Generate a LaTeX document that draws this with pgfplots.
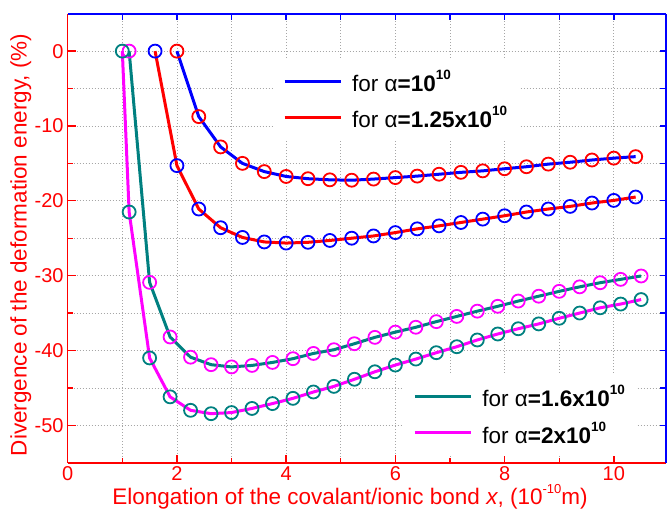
\documentclass[border=0pt]{standalone}
\usepackage{pgfplots}
\pgfplotsset{compat=1.18}
\usepackage{pgfplotstable}
\usepackage{fontspec}
\setmainfont{Liberation Sans}

\definecolor{cteal}{RGB}{0,128,128}
\definecolor{cmag}{RGB}{255,0,255}

% superscripts used in the legends and the x label
\newcommand{\lsup}[1]{\raisebox{12pt}{\fontsize{13.5}{14}\selectfont\bfseries #1}}
\newcommand{\xsup}[1]{\raisebox{10.5pt}{\fontsize{13}{13}\selectfont #1}}

% alpha = 1e10
\pgfplotstableread{
x y
2.0 0
2.4 -8.75
2.8 -12.8
3.2 -15.0
3.6 -16.1
4.0 -16.75
4.4 -17.05
4.8 -17.2
5.2 -17.25
5.6 -17.1
6.0 -16.9
6.4 -16.7
6.8 -16.45
7.2 -16.2
7.6 -16.0
8.0 -15.72
8.4 -15.45
8.8 -15.1
9.2 -14.85
9.6 -14.55
10.0 -14.3
10.4 -14.1
}\alphaone

% alpha = 1.25e10
\pgfplotstableread{
x y
1.6 0
2.0 -15.3
2.4 -21.1
2.8 -23.6
3.2 -24.9
3.6 -25.5
4.0 -25.65
4.4 -25.55
4.8 -25.3
5.2 -25.0
5.6 -24.7
6.0 -24.25
6.4 -23.75
6.8 -23.35
7.2 -22.9
7.6 -22.45
8.0 -22.0
8.4 -21.5
8.8 -21.1
9.2 -20.75
9.6 -20.3
10.0 -19.95
10.4 -19.5
}\alphatwo

% alpha = 1.6e10
\pgfplotstableread{
x y
1.125 0
1.5 -30.9
1.875 -38.2
2.25 -40.9
2.625 -41.9
3.0 -42.2
3.375 -42.0
3.75 -41.6
4.125 -41.1
4.5 -40.4
4.875 -39.9
5.25 -39.1
5.625 -38.25
6.0 -37.55
6.375 -36.9
6.75 -36.15
7.125 -35.45
7.5 -34.75
7.875 -34.1
8.25 -33.4
8.625 -32.75
9.0 -32.1
9.375 -31.5
9.75 -30.95
10.125 -30.5
10.5 -30.05
}\alphathree

% alpha = 2e10
\pgfplotstableread{
x y
1.0 0
1.125 -21.5
1.5 -41.0
1.875 -46.2
2.25 -48.0
2.625 -48.45
3.0 -48.3
3.375 -47.75
3.75 -47.1
4.125 -46.4
4.5 -45.55
4.875 -44.8
5.25 -43.85
5.625 -42.85
6.0 -41.95
6.375 -41.15
6.75 -40.3
7.125 -39.5
7.5 -38.6
7.875 -37.8
8.25 -37.1
8.625 -36.45
9.0 -35.7
9.375 -35.0
9.75 -34.3
10.125 -33.8
10.5 -33.2
}\alphafour

\pgfplotsset{
  frame/.style={
    scale only axis, width=598pt, height=449pt,
    xmin=0, xmax=10.95, ymin=-55, ymax=5,
    tick align=inside,
  },
  leg/.style={
    legend cell align=left,
    legend style={draw=none, fill=white, inner xsep=10pt, inner ysep=9pt,
      row sep=9pt, column sep=8pt, font=\fontsize{22.5}{27}\selectfont,
      /tikz/every even column/.append style={inner sep=0pt, text height=22pt, text depth=4pt}},
    legend image code/.code={\draw[##1, line width=3.2pt] (0pt,0pt) -- (56pt,0pt);},
  },
}

\begin{document}
\begin{tikzpicture}
\begin{axis}[
  frame, leg,
  axis x line*=bottom, axis y line*=left,
  axis line style={red, line width=1.6pt},
  tick align=inside,
  xtick={0,2,...,10}, xticklabels={0,2,4,6,8,10},
  minor xtick={1,3,...,9},
  ytick={-50,-40,...,0}, yticklabels={-50,-40,-30,-20,-10,0},
  minor ytick={-45,-35,...,-5},
  grid=both,
  major grid style={gray!70, line width=0.7pt, dash pattern=on 0.8pt off 2.2pt},
  minor grid style={gray!70, line width=0.7pt, dash pattern=on 0.8pt off 2.2pt},
  major tick length=8pt, minor tick length=5pt,
  tick style={red, line width=1.4pt},
  tick label style={red, font=\fontsize{20}{24}\selectfont},
  xticklabel style={inner ysep=4pt},
  yticklabel style={inner xsep=4pt},
  xlabel={Elongation of the covalant/ionic bond \textit{x}, (10\xsup{-10}m)},
  ylabel={Divergence of the deformation energy, (\%)},
  label style={red, font=\fontsize{22.5}{27}\selectfont},
  xlabel style={at={(axis description cs:0.472,-0.092)}, anchor=base},
  ylabel style={at={(axis description cs:-0.0686,0.485)}, anchor=base},
  legend style={at={(rel axis cs:0.343,0.901)}, anchor=north west},
]
\coordinate (llc) at (rel axis cs:0,0);
\addplot[blue, line width=3pt] table {\alphaone};
\addplot[red, line width=3pt] table {\alphatwo};
\addplot[cteal, line width=3pt, forget plot] table {\alphathree};
\addplot[cmag, line width=3pt, forget plot] table {\alphafour};
\addplot[only marks, mark=o, mark size=6.5pt, red, mark options={line width=1.8pt}, forget plot] table {\alphaone};
\addplot[only marks, mark=o, mark size=6.5pt, blue, mark options={line width=1.8pt}, forget plot] table {\alphatwo};
\addplot[only marks, mark=o, mark size=6.5pt, cmag, mark options={line width=1.8pt}, forget plot] table {\alphathree};
\addplot[only marks, mark=o, mark size=6.5pt, cteal, mark options={line width=1.8pt}, forget plot] table {\alphafour};
\legend{for α\textbf{=10}\lsup{10}, for α\textbf{=1.25x10}\lsup{10}}
\end{axis}
\begin{axis}[
  frame, leg,
  axis x line*=top, axis y line*=right,
  axis line style={blue, line width=1.6pt},
  tick align=inside,
  xtick={1,...,10}, ytick={-50,-45,...,0},
  xticklabels={}, yticklabels={},
  major tick length=6pt,
  tick style={blue, line width=1.4pt},
  legend style={at={(rel axis cs:0.5607,0.199)}, anchor=north west},
]
\addlegendimage{cteal, line width=3.2pt}
\addlegendentry{for α\textbf{=1.6x10}\lsup{10}}
\addlegendimage{cmag, line width=3.2pt}
\addlegendentry{for α\textbf{=2x10}\lsup{10}}
\end{axis}
\pgfresetboundingbox
\path[use as bounding box] (llc) ++(-67.7pt,-46.3pt) rectangle ++(667pt,509pt);
\end{tikzpicture}
\end{document}
